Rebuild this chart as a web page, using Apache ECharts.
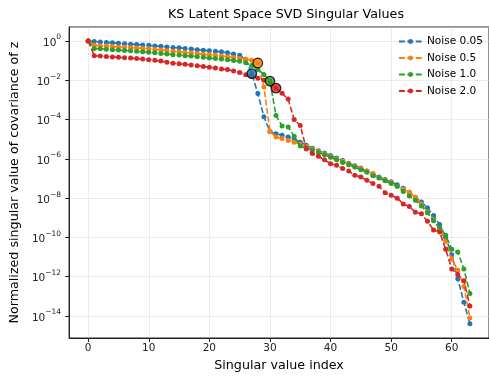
<!DOCTYPE html>
<html>
<head>
<meta charset="utf-8">
<script src="https://cdn.jsdelivr.net/npm/echarts@6/dist/echarts.min.js"></script>
<style>
  html, body { margin: 0; padding: 0; background: #fff; }
  #main { width: 489px; height: 379px; }
</style>
</head>
<body>
<div id="main"></div>
<script>
// singular value index 0..63
var indices = [];
for (var i = 0; i < 64; i++) indices.push(i);

var seriesNames = ['Noise 0.05', 'Noise 0.5', 'Noise 1.0', 'Noise 2.0'];
var colors = ['#1f77b4', '#ff7f0e', '#2ca02c', '#d62728'];

var noise005 = [1, 0.93, 0.89, 0.85, 0.81, 0.76, 0.72, 0.69, 0.66, 0.63,
  0.60, 0.56, 0.54, 0.50, 0.47, 0.45, 0.42, 0.39, 0.36, 0.34,
  0.32, 0.30, 0.28, 0.25, 0.22, 0.19, 0.11, 0.022, 2.1e-3, 1.4e-4,
  2.5e-5, 1.9e-5, 1.6e-5, 1.3e-5, 1.0e-5, 7.1e-6, 5.0e-6, 3.5e-6, 2.6e-6, 2.0e-6,
  1.5e-6, 1.1e-6, 8.3e-7, 6.0e-7, 4.5e-7, 3.4e-7, 2.4e-7, 1.7e-7, 1.2e-7, 8.9e-8,
  6.8e-8, 4.8e-8, 3.2e-8, 2.0e-8, 1.1e-8, 6.3e-9, 3.2e-9, 1.3e-9, 4.5e-10, 1.0e-10,
  1.3e-11, 7.9e-13, 5.0e-14, 4.0e-15];

var noise05 = [1, 0.60, 0.58, 0.55, 0.52, 0.50, 0.48, 0.46, 0.44, 0.42,
  0.40, 0.37, 0.35, 0.32, 0.30, 0.28, 0.26, 0.245, 0.23, 0.21,
  0.20, 0.19, 0.17, 0.16, 0.145, 0.13, 0.12, 0.105, 0.076, 4.5e-3,
  2.5e-5, 1.3e-5, 1.1e-5, 8.7e-6, 7.1e-6, 5.6e-6, 4.2e-6, 3.2e-6, 2.4e-6, 1.8e-6,
  1.3e-6, 1.0e-6, 7.6e-7, 5.6e-7, 4.2e-7, 3.2e-7, 2.4e-7, 1.8e-7, 1.1e-7, 8.3e-8,
  6.3e-8, 4.0e-8, 2.8e-8, 2.0e-8, 1.1e-8, 5.0e-9, 2.0e-9, 7.9e-10, 2.5e-10, 6.3e-11,
  7.9e-12, 2.2e-12, 3.2e-13, 7.9e-15];

var noise10 = [1, 0.42, 0.40, 0.38, 0.36, 0.35, 0.33, 0.32, 0.30, 0.28,
  0.27, 0.25, 0.23, 0.22, 0.20, 0.195, 0.18, 0.17, 0.16, 0.148,
  0.138, 0.129, 0.12, 0.112, 0.102, 0.093, 0.079, 0.056, 0.035, 0.020,
  9.1e-3, 1.6e-4, 4.7e-5, 4.2e-5, 1.4e-5, 4.5e-6, 3.5e-6, 2.8e-6, 2.1e-6, 1.6e-6,
  1.2e-6, 8.9e-7, 6.6e-7, 5.0e-7, 3.8e-7, 2.8e-7, 2.1e-7, 1.4e-7, 1.05e-7, 7.6e-8,
  5.6e-8, 4.0e-8, 2.2e-8, 1.3e-8, 7.9e-9, 4.0e-9, 1.8e-9, 7.1e-10, 3.2e-10, 1.3e-10,
  2.5e-11, 1.8e-11, 2.5e-12, 1.4e-13];

var noise20 = [1, 0.18, 0.17, 0.162, 0.155, 0.148, 0.141, 0.135, 0.129, 0.12,
  0.112, 0.105, 0.095, 0.083, 0.074, 0.069, 0.065, 0.060, 0.055, 0.050,
  0.046, 0.042, 0.038, 0.035, 0.030, 0.025, 0.019, 0.016, 0.0126, 0.010,
  7.1e-3, 4.0e-3, 2.2e-3, 1.1e-3, 1.0e-4, 5.0e-5, 3.2e-6, 1.9e-6, 1.35e-6, 8.9e-7,
  5.6e-7, 4.7e-7, 3.2e-7, 2.4e-7, 1.45e-7, 1.2e-7, 8.1e-8, 5.5e-8, 4.0e-8, 1.9e-8,
  1.4e-8, 1.0e-8, 5.0e-9, 3.8e-9, 1.9e-9, 1.6e-9, 6.6e-10, 2.4e-10, 1.9e-10, 2.5e-11,
  2.5e-12, 1.3e-12, 6.3e-13, 3.2e-14];

// rank cut-off index marked with a black-edged circle
var cutoffs = [27, 28, 30, 31];

var allValues = [noise005, noise05, noise10, noise20];

var myChart = echarts.init(document.getElementById('main'));

// y axis is in decades (log10 of the value), labels shown as 10^n
var sup = function(e) {
  if (Math.abs(e - Math.round(e)) > 1e-6) return '';
  e = Math.round(e);
  var s = e < 0 ? '\u2212' + (-e) : '' + e;
  return '{b|10}{s|' + s + '}';
};

var series = [];
allValues.forEach(function(vals, k) {
  series.push({
    name: seriesNames[k],
    type: 'line',
    data: indices.map(function(x, j) { return [x, Math.log10(vals[j])]; }),
    symbol: 'circle',
    symbolSize: 5,
    color: colors[k],
    itemStyle: { color: colors[k] },
    lineStyle: { width: 1.6, type: [5.9, 2.5], color: colors[k] },
    z: 2 + k
  });
});
allValues.forEach(function(vals, k) {
  series.push({
    type: 'scatter',
    data: [[cutoffs[k], Math.log10(vals[cutoffs[k]])]],
    symbol: 'circle',
    symbolSize: 9.5,
    itemStyle: { color: colors[k], borderColor: '#000', borderWidth: 1.3 },
    z: 10
  });
});

option = {
  animation: false,
  backgroundColor: '#fff',
  textStyle: { fontFamily: 'DejaVu Sans' },
  title: {
    text: 'KS Latent Space SVD Singular Values',
    left: 281,
    textAlign: 'center',
    top: 3,
    textStyle: { fontFamily: 'DejaVu Sans', fontSize: 12.7, fontWeight: 'normal', color: '#000' }
  },
  legend: {
    data: seriesNames,
    orient: 'vertical',
    left: 393,
    top: 31,
    itemWidth: 23,
    itemHeight: 6,
    itemGap: 5.5,
    textStyle: { fontFamily: 'DejaVu Sans', fontSize: 10.5, color: '#000' }
  },
  grid: {
    left: 67, right: -6, top: 27, bottom: 41,
    show: true, borderColor: '#222', borderWidth: 1
  },
  xAxis: {
    type: 'value',
    min: -3.15,
    max: 66.15,
    name: 'Singular value index',
    nameLocation: 'middle',
    nameGap: 20,
    nameTextStyle: { fontFamily: 'DejaVu Sans', fontSize: 12.7, color: '#000' },
    axisLine: { onZero: false, lineStyle: { color: '#222', width: 1 } },
    axisTick: { length: 4, lineStyle: { color: '#222' } },
    axisLabel: {
      margin: 5, fontSize: 10.5, color: '#222', fontFamily: 'DejaVu Sans',
      showMinLabel: false, showMaxLabel: false
    },
    splitLine: { show: true, lineStyle: { color: '#d0d0d0', type: 'dotted', width: 0.8 } }
  },
  yAxis: {
    type: 'value',
    min: -15.12,
    max: 0.713,
    splitNumber: 8,
    name: 'Normalized singular value of covariance of z',
    nameLocation: 'middle',
    nameGap: 43,
    nameRotate: 90,
    nameTextStyle: { fontFamily: 'DejaVu Sans', fontSize: 12.7, color: '#000' },
    axisLine: { show: true, onZero: false, lineStyle: { color: '#222', width: 1 } },
    axisTick: { show: true, length: 4, lineStyle: { color: '#222' } },
    axisLabel: {
      margin: 8, color: '#222', fontFamily: 'DejaVu Sans',
      showMinLabel: false, showMaxLabel: false,
      formatter: sup,
      rich: {
        b: { fontSize: 10.5, fontFamily: 'DejaVu Sans', color: '#222', verticalAlign: 'bottom', lineHeight: 15 },
        s: { fontSize: 7.5, fontFamily: 'DejaVu Sans', color: '#222', verticalAlign: 'top', lineHeight: 15 }
      }
    },
    splitLine: { show: true, lineStyle: { color: '#d0d0d0', type: 'dotted', width: 0.8 } }
  },
  series: series
};

myChart.setOption(option);
</script>
</body>
</html>
